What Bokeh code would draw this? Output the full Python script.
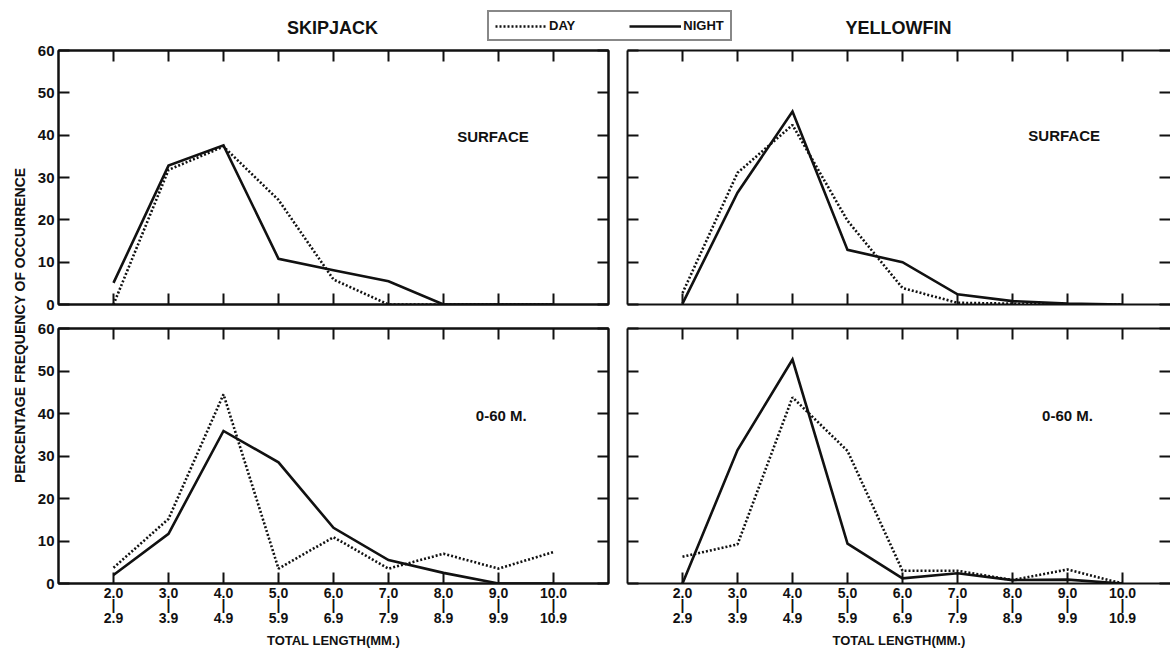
import math
from bokeh.plotting import figure
from bokeh.layouts import column, row
from bokeh.models import Range1d, FixedTicker, LinearAxis, Label, Legend, LegendItem
from bokeh.embed import file_html
from bokeh.resources import INLINE

# ---------------- data ----------------
lower = ["2.0", "3.0", "4.0", "5.0", "6.0", "7.0", "8.0", "9.0", "10.0"]
upper = ["2.9", "3.9", "4.9", "5.9", "6.9", "7.9", "8.9", "9.9", "10.9"]
y_ticks = [0, 10, 20, 30, 40, 50, 60]

skipjack_surface_day = [0.0, 31.8, 37.3, 24.7, 5.9, 0.0, 0.0, 0.0, 0.0]
skipjack_surface_night = [5.1, 32.8, 37.6, 10.8, 8.1, 5.5, 0.0, 0.0, 0.0]
yellowfin_surface_day = [2.7, 31.1, 42.4, 19.8, 3.9, 0.4, 0.2, 0.0, 0.0]
yellowfin_surface_night = [0.2, 26.4, 45.6, 12.9, 10.0, 2.4, 0.8, 0.2, 0.0]
skipjack_060_day = [3.7, 15.2, 44.5, 3.5, 10.9, 3.5, 7.0, 3.5, 7.4]
skipjack_060_night = [2.0, 11.7, 35.9, 28.5, 13.1, 5.5, 2.5, 0.0, 0.0]
yellowfin_060_day = [6.3, 9.2, 43.8, 31.2, 3.0, 3.0, 0.8, 3.3, 0.0]
yellowfin_060_night = [0.0, 31.4, 52.7, 9.4, 1.2, 2.4, 0.8, 0.9, 0.0]

FONT = "Liberation Sans"
INK = "#111111"
LW = 2.6
DASH = "2 2"

xs = list(range(1, len(lower) + 1))
x_overrides = {x: f"{lo}\n|\n{up}" for x, lo, up in zip(xs, lower, upper)}


def style_axis(ax, labels):
    ax.axis_line_color = INK
    ax.axis_line_width = 2
    ax.major_tick_line_color = INK
    ax.major_tick_line_width = 2
    ax.major_tick_in = 11
    ax.major_tick_out = 0
    ax.minor_tick_line_color = None
    ax.major_label_text_font = FONT
    ax.major_label_text_font_style = "bold"
    ax.major_label_text_color = INK
    if not labels:
        ax.major_label_text_font_size = "0px"
        ax.major_label_standoff = 0


def panel(width, height, mbl, mbr, mbt, mbb, x_end, day, night, tag,
          y_labels, x_labels, open_right):
    p = figure(width=width, height=height, output_backend="svg",
               toolbar_location=None, x_range=Range1d(0, x_end),
               y_range=Range1d(0, 60), x_axis_location=None,
               y_axis_location=None, min_border_left=mbl,
               min_border_right=mbr, min_border_top=mbt,
               min_border_bottom=mbb)
    p.grid.visible = False
    p.outline_line_color = None if open_right else INK
    p.outline_line_width = 2
    p.background_fill_color = "white"
    p.border_fill_color = "white"

    left = LinearAxis(ticker=FixedTicker(ticks=y_ticks))
    style_axis(left, y_labels)
    if y_labels:
        left.major_label_text_font_size = "15px"
        left.major_label_standoff = 4
    p.add_layout(left, "left")

    right = LinearAxis(ticker=FixedTicker(ticks=y_ticks))
    style_axis(right, False)
    if open_right:
        right.axis_line_color = None
    p.add_layout(right, "right")

    top = LinearAxis(ticker=FixedTicker(ticks=xs))
    style_axis(top, False)
    p.add_layout(top, "above")

    bottom = LinearAxis(ticker=FixedTicker(ticks=xs))
    style_axis(bottom, x_labels)
    if x_labels:
        bottom.major_label_overrides = x_overrides
        bottom.major_label_text_font_size = "14px"
        bottom.major_label_text_line_height = 0.79
        bottom.major_label_standoff = 1
        bottom.axis_label = "TOTAL LENGTH(MM.)"
        bottom.axis_label_text_font = FONT
        bottom.axis_label_text_font_style = "bold"
        bottom.axis_label_text_font_size = "13px"
        bottom.axis_label_text_color = INK
        bottom.axis_label_standoff = 4
    p.add_layout(bottom, "below")

    p.line(xs, night, line_width=LW, line_color=INK, line_join="miter")
    p.line(xs, day, line_width=LW, line_color=INK, line_dash=DASH)

    p.add_layout(Label(x=tag[1], y=tag[2], text=tag[0], text_align="center",
                       text_baseline="middle", text_font=FONT,
                       text_font_style="bold", text_font_size="15px",
                       text_color=INK))
    return p


STRIP_W = 30
LEFT_W, RIGHT_W = 587, 553
HEAD_H, TOP_H, BOT_H = 42, 274, 335
SPACING = 55.0
right_x_end = (RIGHT_W - 10) / SPACING

tl = panel(LEFT_W, TOP_H, 28, 9, 8, 12, 10, skipjack_surface_day,
           skipjack_surface_night, ("SURFACE", 7.9, 39.8), True, False, False)
tr = panel(RIGHT_W, TOP_H, 10, 0, 8, 12, right_x_end, yellowfin_surface_day,
           yellowfin_surface_night, ("SURFACE", 7.94, 40.0), False, False, True)
bl = panel(LEFT_W, BOT_H, 28, 9, 12, 68, 10, skipjack_060_day,
           skipjack_060_night, ("0-60 M.", 8.05, 39.5), True, True, False)
br = panel(RIGHT_W, BOT_H, 10, 0, 12, 68, right_x_end, yellowfin_060_day,
           yellowfin_060_night, ("0-60 M.", 8.0, 39.6), False, True, True)

# header with species titles and legend
TOTAL_W = STRIP_W + LEFT_W + RIGHT_W
header = figure(width=TOTAL_W, height=HEAD_H, output_backend="svg",
                toolbar_location=None, x_range=Range1d(0, TOTAL_W),
                y_range=Range1d(0, HEAD_H), x_axis_location=None,
                y_axis_location=None, min_border=0)
header.grid.visible = False
header.outline_line_color = None
for txt, cx in (("SKIPJACK", 332), ("YELLOWFIN", 898)):
    header.add_layout(Label(x=cx, y=15, text=txt, text_align="center",
                            text_baseline="middle", text_font=FONT,
                            text_font_style="bold", text_font_size="18px",
                            text_color=INK))
# off-range dummy lines so that the legend has glyphs to draw
r_day = header.line([-20, -10], [-20, -20], line_width=LW, line_color=INK,
                    line_dash=DASH)
r_night = header.line([-20, -10], [-20, -20], line_width=LW, line_color=INK)
legend = Legend(items=[LegendItem(label="DAY", renderers=[r_day]),
                       LegendItem(label="NIGHT", renderers=[r_night])],
                orientation="horizontal", location=(487, 1),
                glyph_width=52, glyph_height=14, label_standoff=2,
                spacing=54, padding=6, margin=0,
                label_text_font=FONT, label_text_font_style="bold",
                label_text_font_size="13px", label_text_color=INK,
                border_line_color=INK, border_line_width=2,
                background_fill_color="white", background_fill_alpha=1)
header.add_layout(legend)

# vertical axis title strip
STRIP_H = TOP_H + BOT_H
strip = figure(width=STRIP_W, height=STRIP_H, output_backend="svg",
               toolbar_location=None, x_range=Range1d(0, STRIP_W),
               y_range=Range1d(0, STRIP_H), x_axis_location=None,
               y_axis_location=None, min_border=0)
strip.grid.visible = False
strip.outline_line_color = None
strip.add_layout(Label(x=19, y=332, angle=math.pi / 2,
                       text="PERCENTAGE  FREQUENCY  OF  OCCURRENCE",
                       text_align="center", text_baseline="middle",
                       text_font=FONT, text_font_style="bold",
                       text_font_size="14px", text_color=INK))

p = column(header, row(strip, column(row(tl, tr), row(bl, br))))

open("out.html", "w").write(file_html(p, INLINE))
